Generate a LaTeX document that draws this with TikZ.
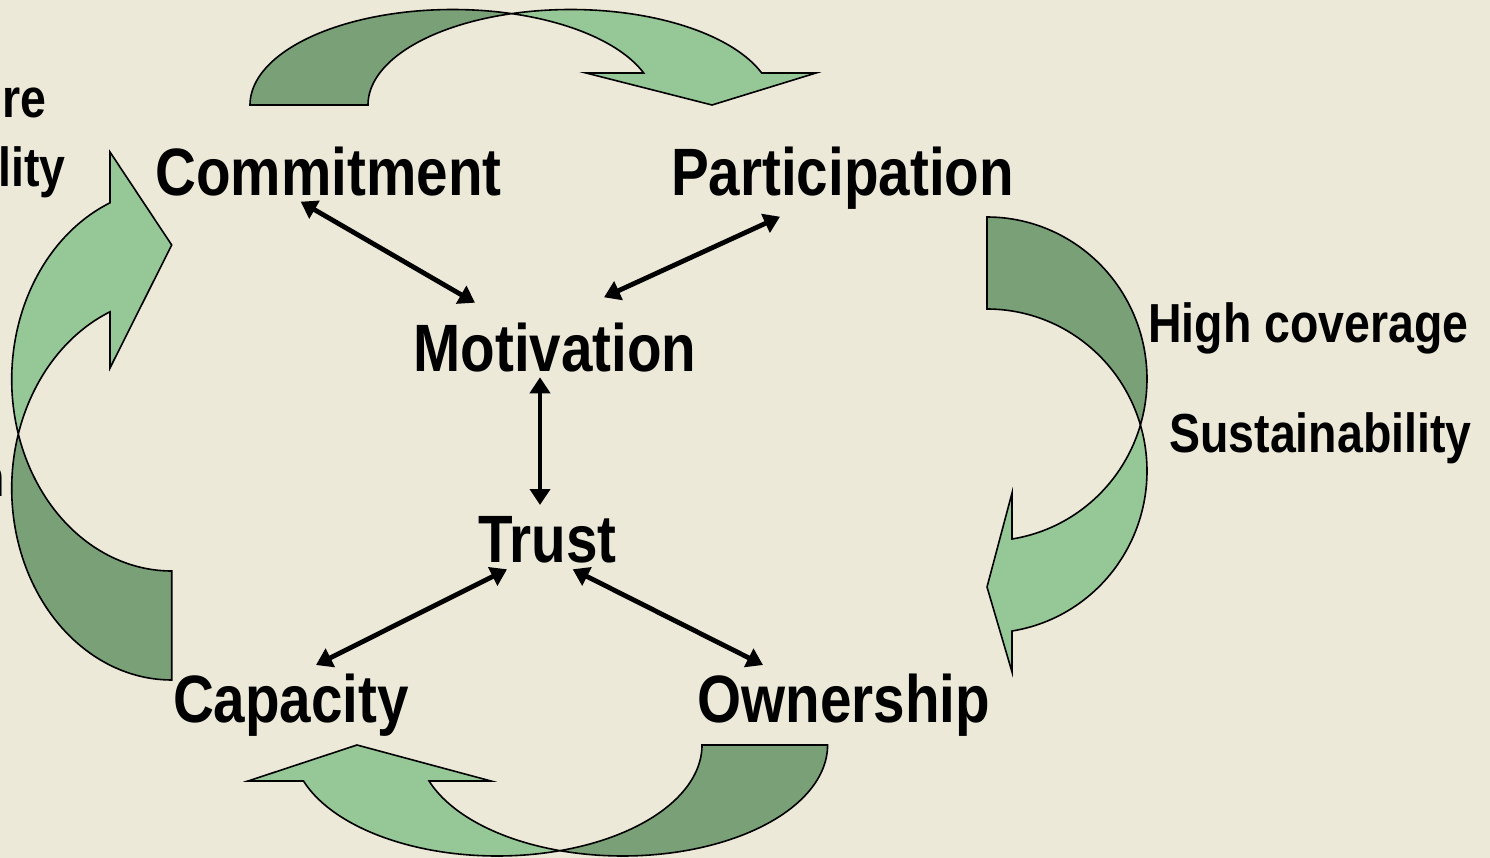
\documentclass[tikz,border=0pt]{standalone}
\usepackage{fontspec}
\setmainfont{Liberation Sans}[FakeStretch=0.845]
\usetikzlibrary{arrows.meta,calc}
\definecolor{bgc}{RGB}{236,233,216}
\definecolor{lgreen}{RGB}{150,199,150}
\definecolor{dgreen}{RGB}{122,160,120}
\begin{document}
\begin{tikzpicture}[x=1pt,y=-1pt,
  lbl/.style={font=\fontsize{67}{67}\selectfont\bfseries, inner sep=0pt, anchor=base},
  lblsm/.style={font=\fontsize{55}{55}\selectfont\bfseries, inner sep=0pt, anchor=base},
  conn/.style={line width=4.8pt, {Triangle[length=16pt,width=20pt]}-{Triangle[length=16pt,width=20pt]}},
  band/.style={draw=black, line width=1.6pt, line join=miter},
  darkpart/.style={band, fill=dgreen},
  lightpart/.style={band, fill=lgreen},
  samples=60]
\fill[bgc] (0,0) rectangle (1490,858);
\useasboundingbox (0,0) rectangle (1490,858);
\clip (0,0) rectangle (1490,858);

% ---- top curved arrow ----
\filldraw[darkpart] plot[domain=180:73.08] ({452.7+202.7*cos(\x)},{105-95.5*sin(\x)})
  -- plot[domain=106.92:180] ({570.7+202.7*cos(\x)},{105-95.5*sin(\x)}) -- cycle;
\filldraw[lightpart] plot[domain=106.92:19.58] ({570.7+202.7*cos(\x)},{105-95.5*sin(\x)})
  -- (816,73) -- (712,105) -- (586,73)
  -- plot[domain=19.58:73.08] ({452.7+202.7*cos(\x)},{105-95.5*sin(\x)}) -- cycle;

% ---- right curved arrow ----
\filldraw[darkpart] plot[domain=90:-16.5] ({987+160*cos(\x)},{379-162*sin(\x)})
  -- plot[domain=16.5:90] ({987+160*cos(\x)},{471-162*sin(\x)}) -- cycle;
\filldraw[lightpart] plot[domain=-16.5:-81.01] ({987+160*cos(\x)},{379-162*sin(\x)})
  -- (1012,493) -- (987,587) -- (1012,672)
  -- plot[domain=-81.01:16.5] ({987+160*cos(\x)},{471-162*sin(\x)}) -- cycle;

% ---- bottom curved arrow ----
\filldraw[darkpart] plot[domain=0:-107.86] ({622.8+204.8*cos(\x)},{745-111*sin(\x)})
  -- plot[domain=-72.14:0] ({497.2+204.8*cos(\x)},{745-111*sin(\x)}) -- cycle;
\filldraw[lightpart] plot[domain=-72.14:-161.08] ({497.2+204.8*cos(\x)},{745-111*sin(\x)})
  -- (248,781) -- (357,745) -- (491,781)
  -- plot[domain=-161.08:-107.86] ({622.8+204.8*cos(\x)},{745-111*sin(\x)}) -- cycle;

% ---- left curved arrow ----
\filldraw[darkpart] plot[domain=270:163.46] ({171.7+160*cos(\x)},{488.5-191.5*sin(\x)})
  -- plot[domain=196.54:270] ({171.7+160*cos(\x)},{379.5-191.5*sin(\x)}) -- cycle;
\filldraw[lightpart] plot[domain=163.46:112.68] ({171.7+160*cos(\x)},{488.5-191.5*sin(\x)})
  -- (110,368) -- (171.7,245) -- (110,152)
  -- plot[domain=112.68:196.54] ({171.7+160*cos(\x)},{379.5-191.5*sin(\x)}) -- cycle;

% ---- labels ----
\node[lbl] (cm)  at (328.5,196) {Commitment};
\node[lbl] (par) at (842.5,196) {Participation};
\node[lbl] (mot) at (555,371)   {Motivation};
\node[lbl] (tr)  at (547.5,562) {Trust};
\node[lbl] (cap) at (291,722)   {Capacity};
\node[lbl] (own) at (844,722)   {Ownership};
\node[lblsm] (hc) at (1308.5,342) {High coverage};
\node[lblsm] (su) at (1320.5,452) {Sustainability};
\node[lblsm, anchor=base east] (l1) at (47,118) {re};
\node[lblsm, anchor=base east] (l2) at (66,187) {lity};
\node[lblsm, anchor=base east] (l3) at (5,496.5) {n};

% ---- connectors ----
\draw[conn] ($(cm.base)+(-27.8,5.7)$) -- ($(mot.base)+(-80,-68.3)$);
\draw[conn] ($(par.base)+(-62.5,20.7)$) -- ($(mot.base)+(49,-73.7)$);
\draw[conn] ($(mot.base)+(-15,6.3)$) -- ($(tr.base)+(-7.5,-57)$);
\draw[conn] ($(tr.base)+(-40.5,7.3)$) -- ($(cap.base)+(25,-57)$);
\draw[conn] ($(tr.base)+(25.2,7.3)$) -- ($(own.base)+(-81,-57)$);
\end{tikzpicture}
\end{document}
